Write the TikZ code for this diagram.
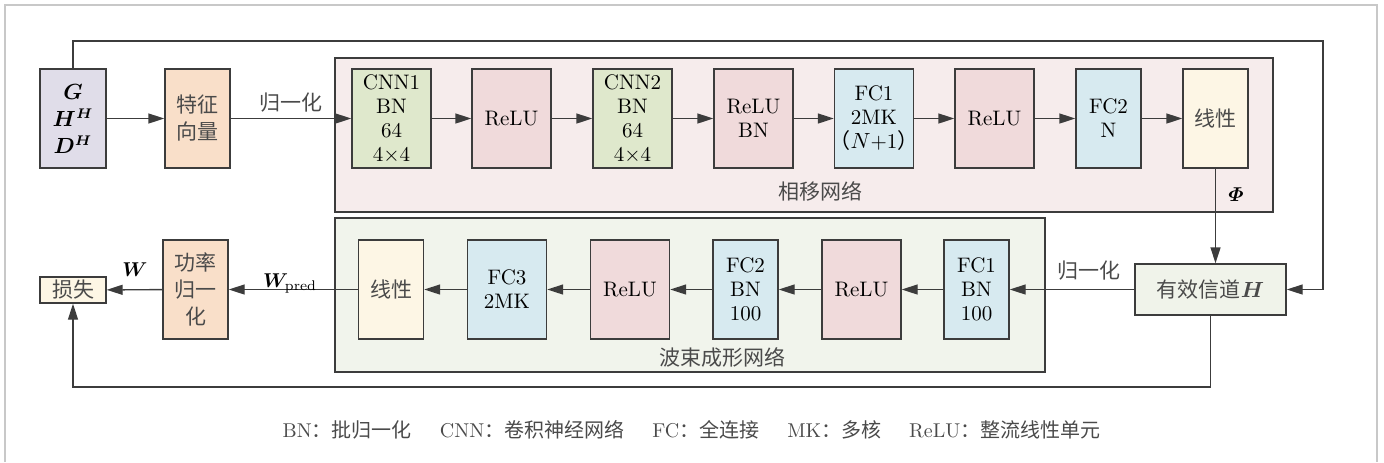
\documentclass[tikz,border=0pt]{standalone}
\usepackage{fontspec}
\usepackage{amsmath}
\usepackage{bm}
\newfontfamily\cjk{Noto Sans CJK SC}
\usetikzlibrary{arrows.meta}
\usetikzlibrary{positioning}
\definecolor{edge}{HTML}{3C3C3C}
\definecolor{cjkgray}{HTML}{4A4A4A}
\definecolor{framegray}{HTML}{C8C8C8}
\definecolor{inpfill}{HTML}{E0DDE9}
\definecolor{peach}{HTML}{F9DFC9}
\definecolor{phasefill}{HTML}{F6ECEC}
\definecolor{beamfill}{HTML}{F1F4EC}
\definecolor{cnnfill}{HTML}{DFE8CC}
\definecolor{relufill}{HTML}{F0DADB}
\definecolor{fcfill}{HTML}{D7EAF0}
\definecolor{linfill}{HTML}{FDF6E5}
\definecolor{chanfill}{HTML}{F0F3EA}
\tikzset{
    box/.style={
           draw=edge, line width=0.7pt,
           inner sep=0pt,
           minimum height=49.5pt,
           align=center,
           font=\fontsize{10.5}{12}\selectfont,
           },
    zhbox/.style={
           box,
           text=cjkgray,
           font=\cjk\fontsize{10.5}{13.5}\selectfont,
           },
    netbox/.style={
           draw=edge, line width=0.7pt,
           inner sep=0pt,
           minimum height=77pt,
           },
    zhlabel/.style={
           text=cjkgray,
           inner sep=1pt,
           font=\cjk\fontsize{10.5}{12}\selectfont,
           },
}
\tikzset{
    inbox/.style={box, fill=inpfill, minimum width=33pt, font=\fontsize{10.5}{13.5}\selectfont},
    featbox/.style={zhbox, fill=peach, minimum width=32.5pt},
    cnnbox/.style={box, fill=cnnfill, minimum width=39.5pt},
    relubox/.style={box, fill=relufill, minimum width=39.5pt},
    fcbox/.style={box, fill=fcfill, minimum width=32.5pt},
    linbox/.style={zhbox, fill=linfill, minimum width=32.5pt},
}

\begin{document}
\begin{tikzpicture}[x=0.5pt,y=-0.5pt,line width=0.7pt,draw=edge,
    >={Triangle[length=8pt,width=5pt]}]
\useasboundingbox (0,0) rectangle (1384,462);
\draw[framegray, line width=1pt] (5,462) -- (5,5) -- (1377,5) -- (1377,462);

% the two networks
\node[netbox, fill=phasefill, minimum width=469pt](phase) at (804,135){};
\node[netbox, fill=beamfill, minimum width=355pt](beam) at (690,295){};
\node[zhlabel](phaselbl) at (820,191){相移网络};
\node[zhlabel](beamlbl) at (722,357){波束成形网络};

% upper row
\node[inbox](inp) at (73,118.5){$\bm{G}$\\$\bm{H}^{\bm{H}}$\\$\bm{D}^{\bm{H}}$};
\node[featbox](feat) at (197.5,118.5){特征\\向量};
\node[cnnbox](cnn1) at (391.5,118.5){CNN1\\BN\\64\\4×4};
\node[relubox](relu1) at (511.5,118.5){ReLU};
\node[cnnbox](cnn2) at (632.5,118.5){CNN2\\BN\\64\\4×4};
\node[relubox](relubn) at (753.5,118.5){ReLU\\BN};
\node[fcbox, minimum width=39.5pt](fc1) at (874,118.5){FC1\\2MK\\\makebox[36pt]{{\cjk （}$N$+1{\cjk ）}}};
\node[relubox](relu2) at (994.5,118.5){ReLU};
\node[fcbox](fc2) at (1108.5,118.5){FC2\\N};
\node[linbox](lin1) at (1215.5,118.5){线性};

% lower row
\node[zhbox, fill=chanfill, minimum width=75.5pt, minimum height=25.5pt](chan) at (1210.5,289.5){有效信道$\bm{H}$};
\node[fcbox](bfc1) at (976.5,289.5){FC1\\BN\\100};
\node[relubox](brelu1) at (861.5,289.5){ReLU};
\node[fcbox](bfc2) at (745.5,289.5){FC2\\BN\\100};
\node[relubox](brelu2) at (630,289.5){ReLU};
\node[fcbox, minimum width=39.5pt](bfc3) at (507,289.5){FC3\\2MK};
\node[linbox](blin) at (391,289.5){线性};
\node[featbox](power) at (195.5,289.5){功率\\归一\\化};
\node[zhbox, fill=linfill, minimum width=33pt, minimum height=13pt](loss) at (73,290){损失};

% connectors
\draw[->] (inp) -- (feat);
\draw[->] (feat) -- node[zhlabel, above=2pt]{归一化} (cnn1);
\draw[->] (cnn1) -- (relu1);
\draw[->] (relu1) -- (cnn2);
\draw[->] (cnn2) -- (relubn);
\draw[->] (relubn) -- (fc1);
\draw[->] (fc1) -- (relu2);
\draw[->] (relu2) -- (fc2);
\draw[->] (fc2) -- (lin1);
\draw[->] (lin1.south) -- (lin1.south |- chan.north);
\node[inner sep=1pt](phi) at (1236,195){$\bm{\varPhi}$};

\coordinate (topR) at (1323,41);
\draw[->] (inp.north) |- (topR) |- (chan.east);

\draw[->] (chan) -- (bfc1);
\node[zhlabel](norm2) at (1089,271){归一化};
\draw[->] (bfc1) -- (brelu1);
\draw[->] (brelu1) -- (bfc2);
\draw[->] (bfc2) -- (brelu2);
\draw[->] (brelu2) -- (bfc3);
\draw[->] (bfc3) -- (blin);
\draw[->] (blin) -- (power);
\node[inner sep=1pt](wpred) at (290,283){$\bm{W}_{\mathrm{pred}}$};
\draw[->] (power) -- (loss);
\node[inner sep=1pt](w) at (135,270){$\bm{W}$};

\coordinate (bot) at (0,387);
\draw[->] (chan.south) |- (bot -| loss) -- (loss.south);

% legend
\node[font=\fontsize{10}{12}\selectfont, text=cjkgray](legend) at (691.5,430){BN{\cjk ：批归一化}\hspace{1.4em}CNN{\cjk ：卷积神经网络}\hspace{1.4em}FC{\cjk ：全连接}\hspace{1.4em}MK{\cjk ：多核}\hspace{1.4em}ReLU{\cjk ：整流线性单元}};
\end{tikzpicture}
\end{document}
